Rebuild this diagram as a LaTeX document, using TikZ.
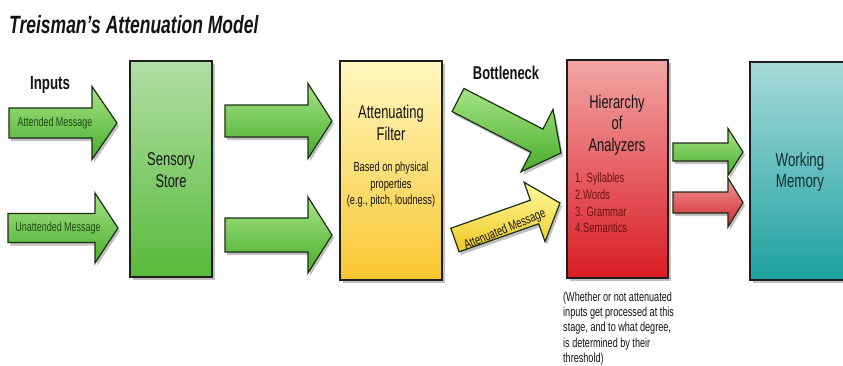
\documentclass[tikz,border=0pt]{standalone}
\usepackage{fontspec}
\setmainfont{Liberation Sans}[FakeStretch=0.7]
\usetikzlibrary{calc,shadows}

% stage box gradients
\definecolor{sensT}{RGB}{178,222,165}
\definecolor{sensB}{RGB}{88,186,58}
\definecolor{filtT}{RGB}{255,247,192}
\definecolor{filtB}{RGB}{249,198,48}
\definecolor{hierT}{RGB}{242,165,165}
\definecolor{hierB}{RGB}{218,28,38}
\definecolor{wmT}{RGB}{168,218,218}
\definecolor{wmB}{RGB}{28,160,160}
% block arrow gradients and outlines
\definecolor{agT}{RGB}{165,228,135}
\definecolor{agB}{RGB}{72,172,42}
\definecolor{ayT}{RGB}{255,250,160}
\definecolor{ayB}{RGB}{240,200,30}
\definecolor{arT}{RGB}{240,150,150}
\definecolor{arB}{RGB}{210,40,45}
\definecolor{boxline}{RGB}{30,30,30}
\definecolor{arrowline}{RGB}{28,48,22}
% text colours
\definecolor{titletext}{RGB}{20,20,20}
\definecolor{greentext}{RGB}{30,75,20}
\definecolor{redtext}{RGB}{110,16,16}
\definecolor{tealtext}{RGB}{16,48,48}

% block arrow: [style]{from}{tip}{shaft width}{head width}{head length}
\newcommand\fatarrow[6][]{%
  \coordinate (fa-n) at ($(#3)!#6!(#2)$);
  \filldraw[#1] ($(#2)!#4/2!90:(#3)$) -- ($(fa-n)!#4/2!90:(#3)$)
    -- ($(fa-n)!#5/2!90:(#3)$) -- (#3) -- ($(fa-n)!#5/2!-90:(#3)$)
    -- ($(fa-n)!#4/2!-90:(#3)$) -- ($(#2)!#4/2!-90:(#3)$) -- cycle;
}

\begin{document}
\begin{tikzpicture}[x=1pt,y=-1pt,
  stagebox/.style={draw=boxline, line width=1.4pt, inner sep=0pt,
    drop shadow={shadow xshift=3pt, shadow yshift=-3pt, fill=black!70, opacity=0.35}},
  blockarrow/.style={draw=arrowline, line width=1.2pt, line join=miter,
    drop shadow={shadow xshift=2pt, shadow yshift=-3pt, fill=black!70, opacity=0.35}},
  greenarrow/.style={blockarrow, top color=agT, bottom color=agB},
  yellowarrow/.style={blockarrow, top color=ayT, bottom color=ayB},
  redarrow/.style={blockarrow, top color=arT, bottom color=arB},
  boxtitle/.style={align=center, text=titletext, inner sep=0pt,
    font=\fontsize{18.5}{21.5}\selectfont},
  smalltext/.style={inner sep=0pt, font=\fontsize{13}{16.5}\selectfont},
  heading/.style={inner sep=0pt, text=titletext, font=\fontsize{18.5}{22}\selectfont\bfseries},
  arrowlabel/.style={inner sep=0pt, text=greentext, font=\fontsize{12.8}{15}\selectfont}]

\clip (0,0) rectangle (843,365);
\fill[white] (0,0) rectangle (843,365);

% title
\node[anchor=base west, inner sep=0pt, text=titletext,
  font=\fontsize{25}{30}\selectfont\bfseries\itshape] (title) at (9,33)
  {Treisman's Attenuation Model};

% processing stages
\node[stagebox, top color=sensT, bottom color=sensB,
  minimum width=82pt, minimum height=216pt] (sensory) at (171,169) {};
\node[stagebox, top color=filtT, bottom color=filtB,
  minimum width=102pt, minimum height=219pt] (filter) at (391,170.5) {};
\node[stagebox, top color=hierT, bottom color=hierB,
  minimum width=101pt, minimum height=218pt] (hier) at (617.5,169) {};
\node[stagebox, top color=wmT, bottom color=wmB,
  minimum width=100pt, minimum height=218pt] (wm) at (800,171) {};

% arrow end points
\coordinate (att-s) at (9,123);    \coordinate (att-e) at (117,123);
\coordinate (un-s) at (8,228);     \coordinate (un-e) at (118,228);
\coordinate (ss-a) at (225,121);   \coordinate (fi-a) at (332,121);
\coordinate (ss-b) at (225,235);   \coordinate (fi-b) at (332,235);
\coordinate (bn-s) at (458,100);   \coordinate (bn-e) at (561,153);
\coordinate (am-s) at (455,240);   \coordinate (am-e) at (560,203);
\coordinate (ha-a) at (673,152);   \coordinate (wm-a) at (743,152);
\coordinate (ha-b) at (673,202.5); \coordinate (wm-b) at (743,202.5);

% block arrows
\fatarrow[greenarrow]{att-s}{att-e}{30pt}{73pt}{25pt}
\fatarrow[greenarrow]{un-s}{un-e}{29pt}{70pt}{23pt}
\fatarrow[greenarrow]{ss-a}{fi-a}{32pt}{75pt}{24pt}
\fatarrow[greenarrow]{ss-b}{fi-b}{34pt}{76pt}{24pt}
\fatarrow[greenarrow]{bn-s}{bn-e}{26pt}{70pt}{27pt}
\fatarrow[yellowarrow]{am-s}{am-e}{25pt}{63pt}{27pt}
\fatarrow[greenarrow]{ha-a}{wm-a}{18pt}{47pt}{15pt}
\fatarrow[redarrow]{ha-b}{wm-b}{21pt}{49pt}{15pt}

% headings and arrow labels
\node[heading, font=\fontsize{19}{22}\selectfont\bfseries] (inputs) at (50,85) {Inputs};
\node[heading] (bottleneck) at (506,73) {Bottleneck};
\node[arrowlabel] (attlabel) at (55,123) {Attended Message};
\node[arrowlabel] (unlabel) at (58,228) {Unattended Message};
\node[arrowlabel, text=titletext, font=\fontsize{13.5}{15}\selectfont,
  rotate=22] (amlabel) at (505,230) {Attenuated Message};

% stage texts
\node[boxtitle] (senstext) at (171,170) {Sensory\\Store};
\node[boxtitle] (filttext) at (391,123) {Attenuating\\Filter};
\node[smalltext, align=center, text=titletext, font=\fontsize{13.2}{16.5}\selectfont]
  (filtnote) at (391,185) {Based on physical\\properties\\(e.g., pitch, loudness)};
\node[boxtitle] (hiertext) at (617,125) {Hierarchy\\of\\Analyzers};
\node[smalltext, align=left, text=redtext, anchor=north west,
  font=\fontsize{13.5}{16.8}\selectfont] (hierlist) at (575,172.5)
  {1. Syllables\\2.Words\\3. Grammar\\4.Semantics};
\node[boxtitle, text=tealtext, font=\fontsize{19}{21.5}\selectfont] (wmtext) at (800,172) {Working\\Memory};

% note under the analyzers
\node[smalltext, align=left, text=titletext, anchor=north west,
  font=\fontsize{13}{15.3}\selectfont] (threshnote) at (563,291.5)
  {(Whether or not attenuated\\inputs get processed at this\\stage, and to what degree,\\is determined by their\\threshold)};
\end{tikzpicture}
\end{document}
